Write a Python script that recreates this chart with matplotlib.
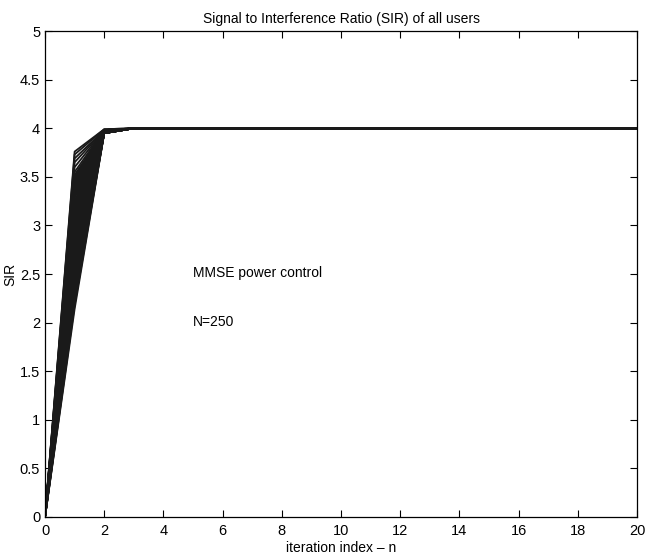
import numpy as np
import matplotlib.pyplot as plt

plt.rcParams['font.family'] = ['Liberation Sans', 'DejaVu Sans']

# iteration index
iters = np.arange(0, 21)

# SIR of each user at iteration 1 (sample of the 250 users)
sir_iter1 = [3.76, 3.73, 3.69, 3.65, 3.60, 3.55, 3.52,
             3.50, 3.48, 3.46, 3.44, 3.42, 3.40, 3.38, 3.36, 3.34, 3.32,
             3.30, 3.28, 3.25, 3.22, 3.20, 3.17, 3.14, 3.11, 3.08, 3.05,
             3.02, 2.99, 2.96, 2.93, 2.90, 2.87, 2.84, 2.81, 2.78, 2.75,
             2.72, 2.69, 2.66, 2.63, 2.60, 2.57, 2.54, 2.51, 2.48, 2.45,
             2.42, 2.39, 2.36, 2.33, 2.30, 2.27, 2.24, 2.21, 2.18, 2.14]
# SIR at iteration 2 (all users nearly converged)
sir_iter2 = [3.99, 3.99, 3.98, 3.98, 3.98, 3.98, 3.97,
             3.97, 3.97, 3.97, 3.97, 3.97, 3.97, 3.97, 3.97, 3.96, 3.96,
             3.96, 3.96, 3.96, 3.96, 3.96, 3.96, 3.96, 3.96, 3.96, 3.96,
             3.96, 3.95, 3.95, 3.95, 3.95, 3.95, 3.95, 3.95, 3.95, 3.95,
             3.95, 3.95, 3.95, 3.95, 3.95, 3.95, 3.95, 3.95, 3.95, 3.95,
             3.95, 3.95, 3.95, 3.95, 3.95, 3.95, 3.95, 3.95, 3.95, 3.95]
sir_start = 0.0
sir_target = 4.0

fig = plt.figure(figsize=(6.45, 5.55), dpi=100)
ax = fig.add_axes([0.0698, 0.0685, 0.9178, 0.8755])

for s1, s2 in zip(sir_iter1, sir_iter2):
    sir = np.concatenate([[sir_start, s1, s2], np.full(len(iters) - 3, sir_target)])
    ax.plot(iters, sir, color='#1a1a1a', linewidth=1.3)

ax.set_xlim(0, 20)
ax.set_ylim(0, 5)
ax.set_xticks(np.arange(0, 21, 2))
ax.set_yticks(np.arange(0, 5.01, 0.5))
ax.set_yticklabels(['0', '0.5', '1', '1.5', '2', '2.5', '3', '3.5', '4', '4.5', '5'])
ax.tick_params(direction='in', top=True, right=True, labelsize=10.5, length=5, width=0.8)
ax.tick_params(axis='x', pad=5)
for sp in ax.spines.values():
    sp.set_linewidth(0.9)

ax.set_title('Signal to Interference Ratio (SIR) of all users', fontsize=10, pad=6)
ax.set_xlabel('iteration index \u2013 n', fontsize=10, labelpad=2)
ax.set_ylabel('SIR', fontsize=10, labelpad=2)

ax.text(5.0, 2.51, 'MMSE power control', fontsize=10, va='center')
ax.text(5.0, 2.01, 'N=250', fontsize=10, va='center')

plt.savefig('out.png', dpi=100)
